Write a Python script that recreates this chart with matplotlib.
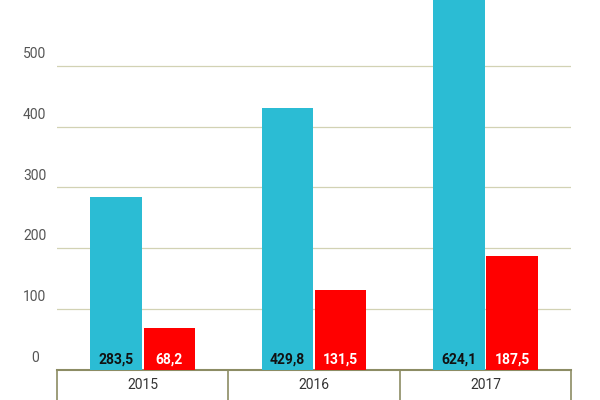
import matplotlib.pyplot as plt
import matplotlib.transforms as mtransforms

years = ["2015", "2016", "2017"]
blue_vals = [283.5, 429.8, 624.1]
red_vals = [68.2, 131.5, 187.5]
yticks = [0, 100, 200, 300, 400, 500]

plt.rcParams["font.family"] = ["Roboto", "DejaVu Sans"]

fig = plt.figure(figsize=(6, 4), dpi=100)
ax = fig.add_axes([0.095, 0.075, 0.857, 0.925])

x = list(range(len(years)))
w = 0.3
off = 0.155
ax.bar([i - off for i in x], blue_vals, width=w, color="#2bbcd4", zorder=3)
ax.bar([i + off for i in x], red_vals, width=w, color="#ff0000", zorder=3)

for i in x:
    ax.text(i - off, 5, f"{blue_vals[i]:.1f}".replace(".", ","), ha="center",
            va="bottom", fontsize=10, fontweight="bold", color="#111111", zorder=4)
    ax.text(i + off, 5, f"{red_vals[i]:.1f}".replace(".", ","), ha="center",
            va="bottom", fontsize=10, fontweight="bold", color="white", zorder=4)

ax.set_xlim(-0.5, 2.5)
ax.set_ylim(0, 608)

# gridlines and y labels above them, left of the plot area
trans = mtransforms.blended_transform_factory(fig.transFigure, ax.transData)
for t in yticks:
    if t > 0:
        ax.axhline(t, color="#d2d2b4", lw=0.9, zorder=1)
    ax.text(0.058, t + 8, str(t), transform=trans, ha="center", va="bottom",
            fontsize=10, color="#555555")

for s in ["top", "right", "left"]:
    ax.spines[s].set_visible(False)
ax.spines["bottom"].set_color("#8c8c64")
ax.spines["bottom"].set_linewidth(1.5)
ax.set_yticks([])

ax.set_xticks([-0.5, 0.5, 1.5, 2.5], minor=False)
ax.set_xticklabels([])
ax.tick_params(axis="x", which="major", length=25, width=1.2, color="#8c8c64")
ax.set_xticks(x, minor=True)
ax.set_xticklabels(years, minor=True)
ax.tick_params(axis="x", which="minor", length=0, pad=6, labelsize=10, labelcolor="#333333")

fig.savefig("out.png", dpi=100)
